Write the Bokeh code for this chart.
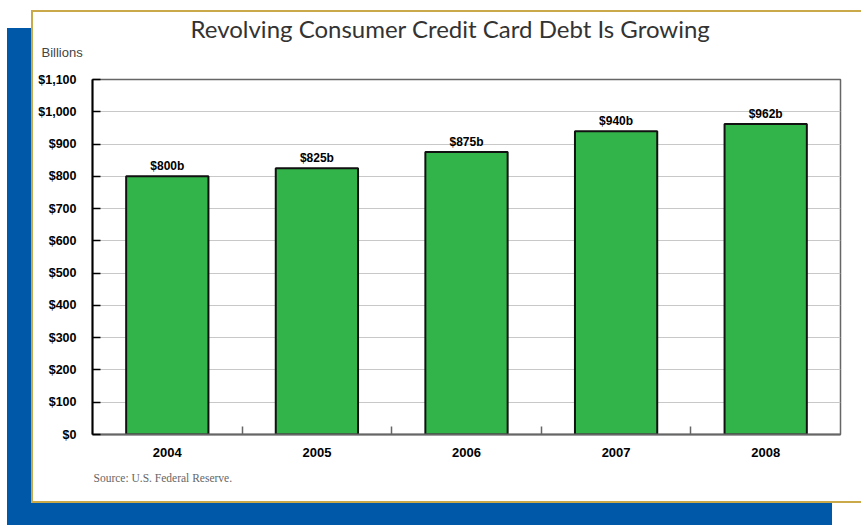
from bokeh.plotting import figure
from bokeh.models import (FixedTicker, NumeralTickFormatter, Range1d, Title,
                          ColumnDataSource, LabelSet)
from bokeh.core.properties import value
from bokeh.embed import file_html
from bokeh.resources import INLINE

years = ["2004", "2005", "2006", "2007", "2008"]
debt = [800, 825, 875, 940, 962]
bar_labels = ["$800b", "$825b", "$875b", "$940b", "$962b"]
y_ticks = list(range(0, 1101, 100))

W, H = 861, 525
FL, FB = 92, 434  # frame left / bottom in canvas px

xs = [i + 0.5 for i in range(len(years))]
bounds = [i for i in range(1, len(years))]

p = figure(width=W, height=H, output_backend="svg", toolbar_location=None,
           x_range=Range1d(0, len(years)), y_range=Range1d(0, 1100),
           min_border_left=FL, min_border_right=21, min_border_top=79,
           min_border_bottom=H - FB, background_fill_color="white",
           border_fill_color=None, title=None)

# page decoration: blue band behind a white panel with a gold rule
p.styles = {
    "background": (
        "linear-gradient(#ffffff,#ffffff) 33px 12px / 900px 489px no-repeat, "
        "linear-gradient(#c9a94a,#c9a94a) 31px 10px / 900px 493px no-repeat, "
        "linear-gradient(#0059a8,#0059a8) 7px 28px / 825px 520px no-repeat"
    )
}

src = ColumnDataSource(dict(x=xs, top=debt, lab=bar_labels))
p.vbar(x="x", top="top", width=0.55, source=src, fill_color="#33b44a",
       line_color="#111111", line_width=2)
p.add_layout(LabelSet(x="x", y="top", text="lab", source=src, y_offset=3,
                      text_align="center", text_baseline="bottom",
                      text_font=value("Liberation Sans"), text_font_style="bold",
                      text_font_size="12px", text_color="black"))

p.outline_line_color = "#666666"
p.outline_line_width = 1.5
p.xgrid.visible = False
p.ygrid.ticker = FixedTicker(ticks=y_ticks)
p.ygrid.grid_line_color = "#c8c8c8"
p.ygrid.grid_line_width = 1

ya = p.yaxis[0]
ya.ticker = FixedTicker(ticks=y_ticks)
ya.formatter = NumeralTickFormatter(format="$0,0")
ya.axis_line_color = "black"
ya.axis_line_width = 2
ya.major_tick_in = 8
ya.major_tick_out = 0
ya.major_tick_line_color = "black"
ya.major_tick_line_width = 1.5
ya.minor_tick_line_color = None
ya.major_label_standoff = 16
ya.major_label_text_font = "Liberation Sans"
ya.major_label_text_font_style = "bold"
ya.major_label_text_font_size = "12.5px"
ya.major_label_text_color = "black"

xa = p.xaxis[0]
xa.ticker = FixedTicker(ticks=xs, minor_ticks=bounds)
xa.major_label_overrides = {x: y for x, y in zip(xs, years)}
xa.axis_line_color = "#666666"
xa.axis_line_width = 2
xa.major_tick_line_color = None
xa.minor_tick_line_color = "#666666"
xa.minor_tick_line_width = 1.5
xa.minor_tick_in = 8
xa.minor_tick_out = 0
xa.major_label_standoff = 7
xa.major_label_text_font = "Liberation Sans"
xa.major_label_text_font_style = "bold"
xa.major_label_text_font_size = "13px"
xa.major_label_text_color = "black"

# texts outside the frame (titles are not clipped)
p.add_layout(Title(text="Billions", align="left", offset=41 - FL, standoff=39,
                   text_font="Liberation Sans", text_font_size="13px",
                   text_font_style="normal", text_color="#444444"), "above")
p.add_layout(Title(text="Revolving Consumer Credit Card Debt Is Growing",
                   align="left", offset=190 - FL, standoff=-39,
                   text_font="Lato", text_font_size="24px",
                   text_font_style="normal", text_color="#333333"), "above")
p.add_layout(Title(text="Source:  U.S. Federal Reserve.", align="left",
                   offset=93 - FL, standoff=20,
                   text_font="Liberation Serif", text_font_size="11.5px",
                   text_font_style="normal", text_color="#666666"), "below")

open("out.html", "w").write(file_html(p, INLINE))
